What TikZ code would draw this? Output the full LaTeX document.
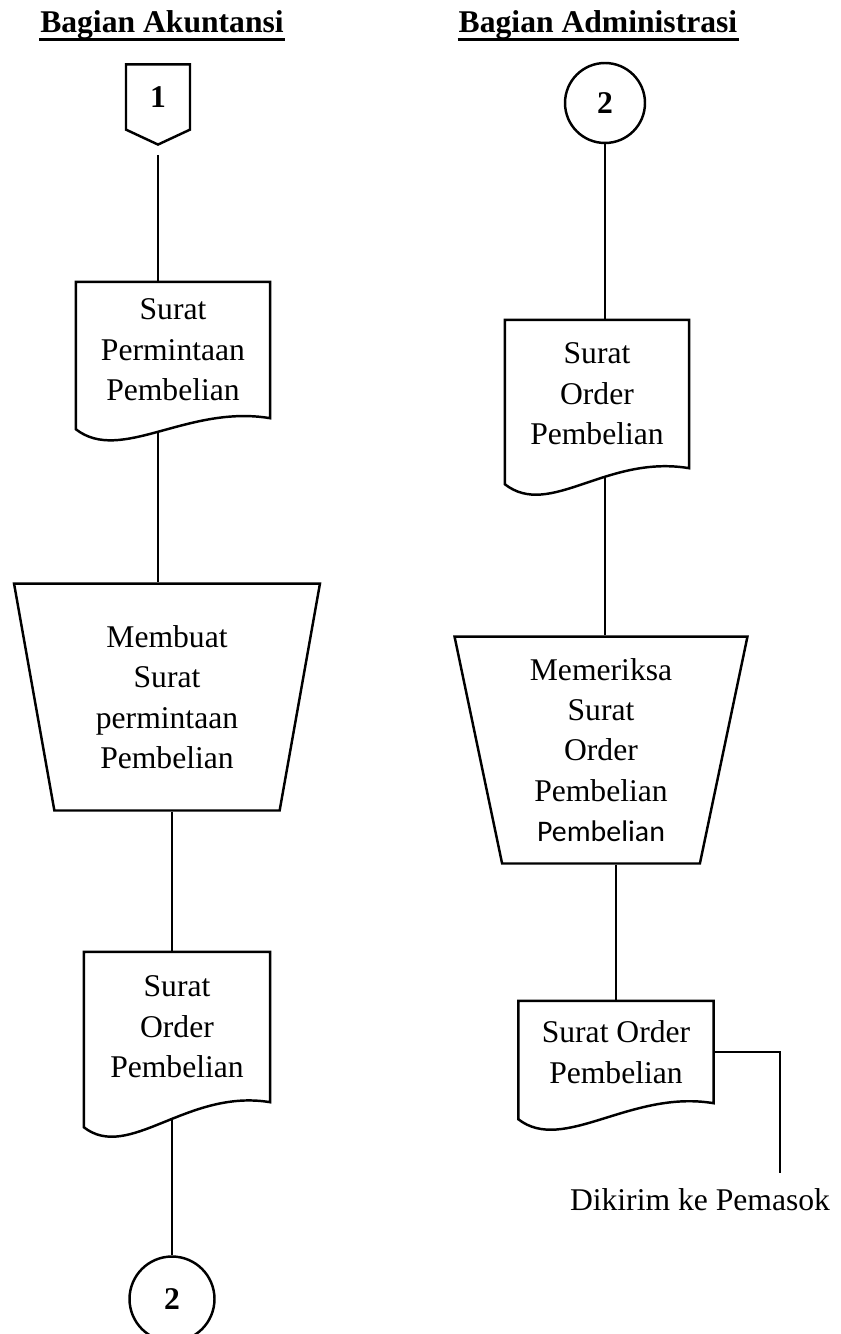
\documentclass[tikz,border=0pt]{standalone}
\usepackage{fontspec}
\setmainfont{Liberation Serif}
\newfontfamily\calfont{Carlito}
\usepackage{tikz}
\usetikzlibrary{shapes.geometric,shapes.symbols,calc,backgrounds}
\tikzstyle{teks} = [font={\fontsize{18}{23}\selectfont}, align=center]
\tikzstyle{judul} = [font={\bfseries\fontsize{18}{22}\selectfont}, inner sep=0pt]
\tikzstyle{dok} = [teks, inner sep=0pt]
\tikzstyle{proses} = [teks, draw, trapezium, shape border rotate=180, trapezium stretches body, minimum height=4.54cm, inner sep=2pt]
\tikzstyle{konektor} = [teks, draw, circle, inner sep=0pt]
\tikzstyle{offpage} = [teks, draw, signal, signal to=south, signal pointer angle=130, minimum width=1.28cm, minimum height=1.38cm, inner sep=0pt]
\tikzstyle{garis} = [line width=1.4pt]

\begin{document}
\begin{tikzpicture}[x=0.02cm,y=-0.02cm,garis]
  \useasboundingbox (0,0) rectangle (840,1334);
  \node[judul,anchor=base](j1) at (162,33){Bagian Akuntansi};
  \node[judul,anchor=base](j2) at (598,33){Bagian Administrasi};
  \draw[line width=1.6pt] ([yshift=-3.5pt]j1.base west) -- ([yshift=-3.5pt]j1.base east);
  \draw[line width=1.6pt] ([yshift=-3.5pt]j2.base west) -- ([yshift=-3.5pt]j2.base east);
  \node[offpage](o1) at (158,97){\textbf{1}};
  \node[dok,minimum width=3.84cm,minimum height=2.68cm](d1) at (173,350){Surat\\Permintaan\\Pembelian};
  \node[proses,minimum width=6.12cm,trapezium angle=75](p1) at (167,697){Membuat\\Surat\\permintaan\\Pembelian};
  \node[dok,minimum width=3.68cm,minimum height=2.96cm](d3) at (177,1027){Surat\\Order\\Pembelian};
  \node[konektor,minimum size=1.7cm](k2) at (172,1299){\textbf{2}};
  \node[konektor,minimum size=1.6cm](k1) at (605,103){\textbf{2}};
  \node[dok,minimum width=3.64cm,minimum height=2.92cm](d2) at (597,394){Surat\\Order\\Pembelian};
  \node[proses,minimum width=5.86cm,trapezium angle=76](p2) at (601,750){Memeriksa\\Surat\\Order\\Pembelian\\{\calfont\fontsize{17}{23}\selectfont Pembelian}};
  \node[dok,minimum width=3.86cm,minimum height=2cm](d4) at (616,1052){Surat Order\\Pembelian};
  \node[teks,anchor=base](kirim) at (700,1210){Dikirim ke Pemasok};
  \coordinate (ujung) at (780,1173);
  \begin{pgfonlayer}{background}
    \begin{scope}[garis]
      \draw[shorten <=0.18cm] (o1.south) -- (o1.south |- d1.north);
      \draw (o1.south |- d1.south) -- (o1.south |- p1.north);
      \draw (p1.south -| k2.north) -- (k2.north |- d3.north);
      \draw (k2.north |- d3.south) -- (k2.north);
      \draw (k1.south) -- (k1.south |- d2.north);
      \draw (k1.south |- d2.south) -- (k1.south |- p2.north);
      \draw (p2.south -| d4.north) -- (d4.north);
      \draw (d4.east) -| (ujung);
      \foreach \d/\h in {d1/11,d2/16,d3/25,d4/16}
        \draw[fill=white] (\d.north west) -- (\d.north east) -- (\d.south east) .. controls +(-83,-14) and +(45,35) .. ($(\d.south west)+(0,\h)$) -- cycle;
    \end{scope}
  \end{pgfonlayer}
\end{tikzpicture}
\end{document}
